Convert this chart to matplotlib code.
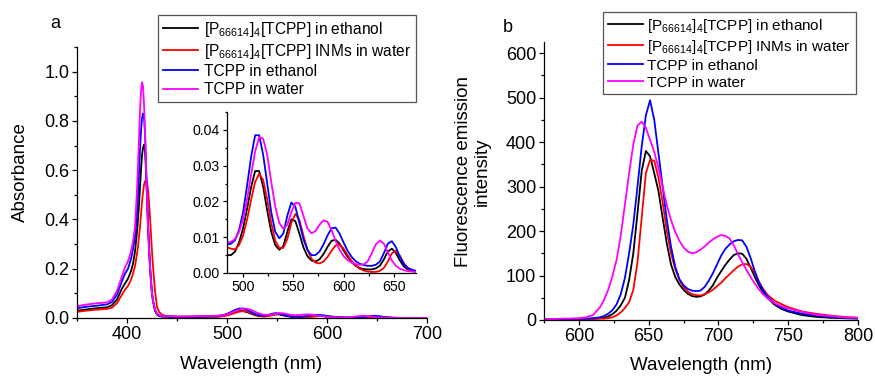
import matplotlib
matplotlib.use("Agg")
import matplotlib.pyplot as plt
from matplotlib.ticker import MultipleLocator, FormatStrFormatter

plt.rcParams['font.family'] = ['Liberation Sans', 'DejaVu Sans']
plt.rcParams['mathtext.default'] = 'regular'

# ---------------- data: panel a (absorbance) ----------------
wl_soret = [350, 360, 370, 380, 385, 390, 395, 398, 401, 404, 406, 408, 410, 411, 412, 413, 414,
            415, 416, 417, 418, 419, 420, 421, 422, 423, 424, 425, 426, 428, 430, 432, 435, 440,
            450, 460, 470, 480]
abs_soret_p_eth = [.030, .035, .040, .043, .052, .075, .12, .14, .16, .19, .22, .27, .35, .40, .46, .53, .60,
                   .66, .69, .704, .68, .60, .49, .38, .29, .21, .15, .10, .07, .03, .014, .008, .006, .005,
                   .004, .004, .004, .005]
abs_soret_p_inm = [.025, .030, .034, .037, .042, .060, .095, .115, .13, .155, .18, .21, .26, .29, .33, .37, .42,
                   .47, .51, .54, .555, .561, .55, .52, .47, .41, .34, .27, .21, .11, .045, .025, .013, .008,
                   .006, .006, .006, .007]
abs_soret_t_eth = [.040, .046, .050, .055, .065, .095, .15, .18, .20, .24, .28, .33, .43, .50, .59, .68, .76,
                   .81, .83, .82, .75, .63, .50, .38, .29, .21, .15, .10, .07, .033, .016, .010, .007, .006,
                   .005, .005, .006, .007]
abs_soret_t_wat = [.048, .055, .060, .063, .075, .11, .17, .205, .23, .27, .31, .37, .52, .62, .73, .84, .92,
                   .957, .94, .87, .76, .62, .48, .37, .28, .21, .15, .10, .07, .035, .018, .012, .009, .007,
                   .006, .006, .007, .008]

wl_q = [484, 488, 492, 496, 500, 504, 508, 512, 516, 520, 524, 528, 532, 536, 540, 544, 548, 552,
        556, 560, 564, 568, 572, 576, 580, 584, 588, 592, 596, 600, 604, 608, 612, 616, 620, 624,
        628, 632, 636, 640, 644, 648, 652, 656, 660, 664, 668, 672, 680, 690, 700]
abs_q_p_eth = [.0050, .0050, .0060, .0085, .0125, .0180, .0240, .0285, .0285, .0240, .0175, .0115, .0078,
               .0065, .0075, .0115, .0150, .0145, .0110, .0072, .0047, .0035, .0032, .0038, .0053, .0073,
               .0090, .0093, .0082, .0063, .0045, .0030, .0020, .0014, .0011, .0010, .0010, .0013, .0020,
               .0038, .0060, .0068, .0056, .0035, .0018, .0010, .0006, .0004, .0003, .0002, .0002]
abs_q_p_inm = [.0072, .0068, .0066, .0078, .0105, .0150, .0205, .0255, .0277, .0260, .0205, .0140, .0090,
               .0070, .0070, .0095, .0140, .0165, .0148, .0105, .0065, .0040, .0029, .0027, .0032, .0045,
               .0062, .0077, .0079, .0068, .0050, .0034, .0021, .0012, .0007, .0004, .0003, .0003, .0006,
               .0014, .0032, .0055, .0062, .0048, .0027, .0013, .0006, .0003, .0002, .0002, .0002]
abs_q_t_eth = [.0080, .0082, .0092, .0120, .0170, .0245, .0325, .0385, .0385, .0330, .0250, .0170, .0115,
               .0097, .0110, .0160, .0197, .0185, .0140, .0095, .0065, .0050, .0050, .0060, .0080, .0105,
               .0125, .0127, .0110, .0085, .0062, .0045, .0033, .0026, .0022, .0020, .0020, .0023, .0032,
               .0055, .0082, .0089, .0072, .0045, .0025, .0014, .0009, .0006, .0004, .0003, .0003]
abs_q_t_wat = [.0085, .0087, .0095, .0115, .0150, .0205, .0275, .0340, .0380, .0375, .0330, .0255, .0185,
               .0140, .0124, .0135, .0170, .0196, .0195, .0160, .0124, .0111, .0117, .0135, .0147, .0143,
               .0120, .0090, .0065, .0047, .0036, .0029, .0025, .0023, .0024, .0033, .0055, .0080, .0091,
               .0082, .0058, .0035, .0020, .0012, .0008, .0005, .0004, .0003, .0002, .0002, .0002]

# ---------------- data: panel b (fluorescence) ----------------
wl_fl = [575, 580, 590, 600, 605, 610, 615, 618, 621, 624, 627, 630, 633, 636, 639, 642, 645, 648,
         651, 654, 657, 660, 663, 666, 669, 672, 675, 678, 681, 684, 687, 690, 693, 696, 699, 702,
         705, 708, 711, 714, 717, 720, 723, 726, 729, 732, 735, 740, 745, 750, 760, 770, 780, 790, 800]
fl_p_eth = [1, 1, 2, 2, 2, 3, 4, 5, 8, 13, 21, 33, 50, 90, 150, 240, 335, 380,
            368, 330, 290, 230, 172, 125, 97, 80, 68, 59, 54, 52, 53, 57, 66, 78, 95, 110,
            124, 136, 146, 150, 149, 138, 118, 97, 78, 63, 50, 35, 25, 19, 11, 7, 5, 4, 3]
fl_p_inm = [1, 1, 1, 2, 2, 2, 3, 3, 4, 6, 10, 17, 27, 40, 68, 130, 230, 330,
            360, 358, 320, 265, 200, 150, 115, 90, 74, 64, 58, 56, 55, 58, 62, 68, 76, 84,
            94, 103, 112, 120, 125, 126, 120, 107, 86, 70, 57, 44, 36, 29, 19, 14, 10, 7, 5]
fl_t_eth = [1, 1, 2, 3, 3, 4, 6, 9, 14, 22, 35, 58, 95, 150, 215, 300, 390, 460,
            494, 450, 375, 300, 225, 165, 120, 92, 78, 70, 66, 65, 66, 74, 88, 105, 125, 145,
            160, 170, 177, 180, 179, 165, 140, 110, 85, 67, 53, 38, 28, 21, 14, 10, 7, 5, 4]
fl_t_wat = [2, 2, 3, 4, 6, 11, 28, 45, 68, 98, 135, 190, 260, 330, 395, 437, 446, 432,
            405, 378, 342, 300, 258, 225, 198, 178, 163, 154, 150, 152, 158, 165, 174, 181, 187, 191,
            189, 183, 168, 148, 130, 113, 97, 82, 69, 58, 49, 38, 31, 26, 18, 12, 9, 6, 5]

labels = ["[P$_{66614}$]$_4$[TCPP] in ethanol",
          "[P$_{66614}$]$_4$[TCPP] INMs in water",
          "TCPP in ethanol",
          "TCPP in water"]
colors = ["#000000", "#ff0000", "#0000ff", "#ff00ff"]

wl_abs = wl_soret + wl_q
abs_series = [abs_soret_p_eth + abs_q_p_eth, abs_soret_p_inm + abs_q_p_inm,
              abs_soret_t_eth + abs_q_t_eth, abs_soret_t_wat + abs_q_t_wat]
fl_series = [fl_p_eth, fl_p_inm, fl_t_eth, fl_t_wat]

LW = 1.3
W, H = 875, 378
fig = plt.figure(figsize=(W / 100, H / 100), dpi=100)


def style(ax, fs, major=3.5, minor=2.0):
    ax.spines['top'].set_visible(False)
    ax.spines['right'].set_visible(False)
    ax.tick_params(which='major', direction='out', length=major, width=0.9, labelsize=fs, pad=2)
    ax.tick_params(which='minor', direction='out', length=minor, width=0.9)
    for s in ('left', 'bottom'):
        ax.spines[s].set_linewidth(0.9)


# Panel a
axa = fig.add_axes([77 / W, 1 - 318 / H, 350 / W, 271 / H])
for y, c, l in zip(abs_series, colors, labels):
    axa.plot(wl_abs, y, color=c, lw=LW, label=l)
axa.set_xlim(350, 700)
axa.set_ylim(0, 1.1)
axa.xaxis.set_major_locator(MultipleLocator(100))
axa.xaxis.set_minor_locator(MultipleLocator(50))
axa.yaxis.set_major_locator(MultipleLocator(0.2))
axa.yaxis.set_minor_locator(MultipleLocator(0.1))
axa.yaxis.set_major_formatter(FormatStrFormatter('%.1f'))
style(axa, 13)
axa.set_xlabel("Wavelength (nm)", fontsize=13.5)
axa.set_ylabel("Absorbance", fontsize=13.5)
axa.xaxis.set_label_coords(0.497, -0.142)
axa.yaxis.set_label_coords(-0.138, 0.537)
axa.legend(loc='upper left', bbox_to_anchor=(158 / W, 1 - 15 / H), bbox_transform=fig.transFigure,
           fontsize=11.2, frameon=True, fancybox=False, edgecolor='#555555', framealpha=1,
           borderpad=0.3, labelspacing=0.2, handlelength=2.3, handletextpad=0.35,
           borderaxespad=0).get_frame().set_linewidth(0.9)
fig.text(55 / W, 1 - 23 / H, "a", fontsize=13, ha='center', va='center')

# Inset
axi = fig.add_axes([227 / W, 1 - 273 / H, 189 / W, 161 / H])
for y, c in zip(abs_series, colors):
    axi.plot(wl_abs, y, color=c, lw=LW)
axi.set_xlim(484, 672)
axi.set_ylim(0, 0.045)
axi.xaxis.set_major_locator(MultipleLocator(50))
axi.xaxis.set_minor_locator(MultipleLocator(25))
axi.yaxis.set_major_locator(MultipleLocator(0.01))
axi.yaxis.set_minor_locator(MultipleLocator(0.005))
axi.yaxis.set_major_formatter(FormatStrFormatter('%.2f'))
style(axi, 10.2, major=3.0, minor=1.8)
axi.patch.set_alpha(0)

# Panel b
axb = fig.add_axes([544 / W, 1 - 320 / H, 314 / W, 278 / H])
for y, c, l in zip(fl_series, colors, labels):
    axb.plot(wl_fl, y, color=c, lw=LW, label=l)
axb.set_xlim(575, 800)
axb.set_ylim(0, 625)
axb.xaxis.set_major_locator(MultipleLocator(50))
axb.xaxis.set_minor_locator(MultipleLocator(25))
axb.yaxis.set_major_locator(MultipleLocator(100))
axb.yaxis.set_minor_locator(MultipleLocator(50))
style(axb, 13)
axb.set_xlabel("Wavelength (nm)", fontsize=13.5)
axb.set_ylabel("Fluorescence emission\nintensity", fontsize=13.5, linespacing=1.15)
axb.xaxis.set_label_coords(0.5, -0.133)
axb.yaxis.set_label_coords(-0.17, 0.535)
axb.legend(loc='upper left', bbox_to_anchor=(603 / W, 1 - 12 / H), bbox_transform=fig.transFigure,
           fontsize=11, frameon=True, fancybox=False, edgecolor='#555555', framealpha=1,
           borderpad=0.3, labelspacing=0.2, handlelength=2.3, handletextpad=0.3,
           borderaxespad=0).get_frame().set_linewidth(0.9)
fig.text(508 / W, 1 - 27 / H, "b", fontsize=13, ha='center', va='center')

fig.savefig("out.png", dpi=100)
